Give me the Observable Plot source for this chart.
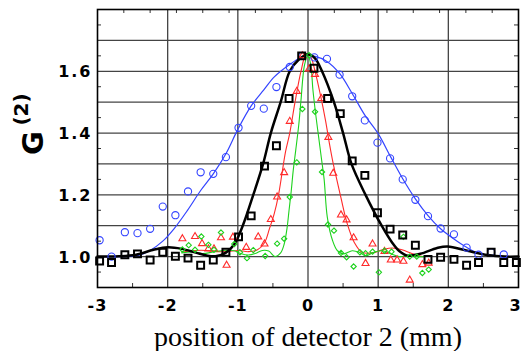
<!DOCTYPE html>
<html>
<head>
<meta charset="utf-8">
<script src="https://cdn.jsdelivr.net/npm/d3@7"></script>
<script src="https://cdn.jsdelivr.net/npm/@observablehq/plot@0.6"></script>
<style>
  html, body { margin: 0; padding: 0; background: #fff; }
  g[font-family^="DejaVu Sans, sans-serif"] { letter-spacing: 2px; }
  g[font-family^="DejaVu Sans, Verdana"] { letter-spacing: 1px; }
</style>
</head>
<body>
<div id="chart"></div>
<script>
// ---- data ----
const blueX = [-2.97,-2.80,-2.61,-2.43,-2.25,-2.07,-1.89,-1.71,-1.53,-1.35,-1.17,-0.99,-0.81,-0.63,-0.45,-0.26,-0.08,0.09,0.27,0.45,0.63,0.81,0.99,1.17,1.35,1.53,1.71,1.89,2.08,2.26,2.43,2.61,2.79];
const blueY = [1.053,1.000,1.079,1.076,1.090,1.162,1.134,1.211,1.273,1.268,1.322,1.417,1.488,1.479,1.549,1.614,1.650,1.645,1.640,1.589,1.519,1.441,1.369,1.318,1.250,1.184,1.131,1.091,1.072,1.029,1.006,1.014,1.007];

const blackX = [-2.97,-2.80,-2.61,-2.43,-2.25,-2.07,-1.89,-1.71,-1.53,-1.35,-1.17,-0.99,-0.81,-0.62,-0.45,-0.27,-0.09,0.085,0.28,0.46,0.63,0.81,0.99,1.17,1.35,1.53,1.71,1.89,2.08,2.26,2.43,2.61,2.79,2.97];
const blackY = [0.986,0.981,1.006,1.009,0.989,1.014,1.001,0.995,0.972,0.989,1.014,1.064,1.132,1.293,1.359,1.512,1.650,1.610,1.512,1.463,1.310,1.263,1.142,1.089,1.070,1.037,0.991,0.998,0.991,0.972,0.981,1.014,0.981,0.981];

const redX = [-1.79,-1.61,-1.51,-1.42,-1.34,-1.24,-1.16,-1.07,-0.88,-0.71,-0.62,-0.53,-0.44,-0.34,-0.26,-0.16,-0.08,0.015,0.10,0.19,0.29,0.36,0.47,0.55,0.65,0.82,0.92,1.09,1.18,1.27,1.36,1.45,1.63,1.72];
const redY = [1.058,1.065,1.042,1.025,1.025,1.061,0.972,1.063,1.030,1.064,1.041,1.120,1.193,1.272,1.438,1.535,1.650,1.608,1.590,1.512,1.386,1.270,1.135,1.119,1.061,0.978,1.041,1.017,0.989,0.989,0.985,0.924,0.974,0.979];

const greenX = [-1.79,-1.70,-1.61,-1.52,-1.42,-1.34,-1.24,-1.05,-0.97,-0.87,-0.78,-0.61,-0.44,-0.34,-0.26,-0.16,-0.08,0.015,0.10,0.20,0.285,0.37,0.47,0.55,0.65,0.74,0.82,0.92,1.01,1.09,1.19,1.36,1.45,1.55,1.63,1.72];
const greenY = [1.023,1.037,1.022,1.065,1.038,1.022,1.078,1.041,1.014,0.995,1.021,1.002,1.042,1.058,1.193,1.305,1.478,1.652,1.469,1.274,1.104,1.084,1.012,0.998,0.968,1.014,1.011,1.016,0.949,1.019,1.016,1.064,1.0,1.0,0.947,0.958];

// fitted curves
const blueLineX = [-3.0,-2.7,-2.43,-2.25,-2.07,-1.91,-1.72,-1.53,-1.35,-1.17,-1.0,-0.81,-0.63,-0.48,-0.26,-0.05,0.1,0.27,0.45,0.63,0.81,1.0,1.18,1.35,1.53,1.71,1.89,2.08,2.26,2.43,2.61,2.8,3.0];
const blueLineY = [1.0,1.0,1.003,1.02,1.05,1.09,1.149,1.214,1.268,1.333,1.412,1.488,1.54,1.582,1.622,1.65,1.648,1.632,1.593,1.528,1.458,1.398,1.322,1.252,1.187,1.133,1.090,1.057,1.030,1.011,1.004,1.0,1.0];

const blackLineX = [-3.0,-2.7,-2.45,-2.2,-2.0,-1.8,-1.6,-1.43,-1.3,-1.17,-1.05,-0.93,-0.78,-0.64,-0.53,-0.39,-0.26,-0.13,0.0,0.1,0.2,0.37,0.5,0.62,0.82,1.05,1.2,1.3,1.42,1.6,1.84,1.99,2.27,2.56,2.8,3.0];
const blackLineY = [1.0,1.001,1.006,1.022,1.03,1.025,1.013,1.003,1.002,1.013,1.04,1.10,1.20,1.30,1.40,1.50,1.60,1.638,1.655,1.642,1.60,1.50,1.40,1.30,1.20,1.10,1.045,1.018,1.003,1.009,1.028,1.033,1.019,1.005,1.0,1.0];

const redLineX = [-1.8,-1.6,-1.45,-1.3,-1.15,-1.0,-0.85,-0.72,-0.62,-0.55,-0.48,-0.42,-0.37,-0.32,-0.26,-0.185,-0.1,-0.03,0.03,0.1,0.18,0.25,0.31,0.36,0.4,0.47,0.56,0.66,0.77,0.92,1.06,1.2,1.34,1.49,1.63];
const redLineY = [1.015,1.02,1.02,1.016,1.016,1.02,1.016,1.022,1.045,1.09,1.14,1.20,1.27,1.34,1.40,1.50,1.60,1.652,1.65,1.60,1.52,1.44,1.36,1.30,1.26,1.19,1.106,1.046,1.014,1.012,1.022,1.028,1.022,1.009,1.0];

const greenLineX = [-1.8,-1.65,-1.5,-1.35,-1.2,-1.05,-0.96,-0.85,-0.75,-0.65,-0.56,-0.47,-0.39,-0.34,-0.3,-0.27,-0.24,-0.21,-0.175,-0.13,-0.1,-0.05,0.0,0.04,0.07,0.11,0.15,0.19,0.23,0.275,0.35,0.42,0.51,0.63,0.73,0.82,0.94,1.06,1.18,1.3,1.42,1.53,1.65];
const greenLineY = [1.012,1.015,1.01,1.015,1.02,1.019,1.01,1.005,1.01,1.02,1.018,1.0,1.012,1.04,1.09,1.15,1.21,1.28,1.344,1.43,1.506,1.62,1.652,1.62,1.54,1.46,1.39,1.32,1.25,1.128,1.052,1.019,1.009,1.019,1.014,1.003,1.014,1.019,1.009,1.0,1.003,1.0,1.0];

// ticks and labels
const xTicks = [-3,-2,-1,0,1,2];
const xTickLabels = ["-3","-2","-1","0","1","2"];
const xEdgeTick = [3];
const xEdgeTickLabel = ["3"];
const yTicks = [1.0,1.2,1.4,1.6];
const yTickLabels = ["1.0","1.2","1.4","1.6"];
const xGrid = [-2,-1,0,1,2];
const yGrid = [1.0,1.1,1.2,1.3,1.4,1.5,1.6,1.7];
const yMinor = [0.95,1.05,1.15,1.25,1.35,1.45,1.55,1.65,1.75];
const xMinorBottom = [-2.5,-1.5,-0.5,0.5,1.5,2.5];
const xMinorTop = [-2.625,-2.25,-1.875,-1.5,-1.125,-0.75,-0.375,0.375,0.75,1.125,1.5,1.875,2.25,2.625];
const xTitle = "position of detector 2 (mm)";
const yTitleMain = "G";
const yTitleSup = "(2)";

// ---- build ----
const zip = (xs, ys) => xs.map((x, i) => ({x, y: ys[i]}));
const W = 522, H = 351, ML = 97, MR = 4, MT = 9, MB = 64;
const PW = W - ML - MR, PH = H - MT - MB;
const yTickFont = "DejaVu Sans, sans-serif";
const xTickFont = "DejaVu Sans, Verdana, sans-serif";
const titleSans = "DejaVu Sans, Arial, sans-serif";

const blue = "#3344ff", red = "#ff2a2a", green = "#1ed21e";
const xLabelStyle = {frameAnchor: "bottom", lineAnchor: "bottom", dy: 23, fontFamily: xTickFont, fontWeight: "bold", fontSize: 16, fill: "#000"};

const chart = Plot.plot({
  width: W, height: H,
  marginLeft: ML, marginRight: MR, marginTop: MT, marginBottom: MB,
  x: {domain: [-3, 3], axis: null},
  y: {domain: [0.9, 1.8], axis: null},
  style: {background: "#fff"},
  marks: [
    Plot.gridY(yGrid, {stroke: "#444", strokeOpacity: 1, strokeWidth: 1.3}),
    Plot.gridX(xGrid, {stroke: "#444", strokeOpacity: 1, strokeWidth: 1.3}),
    Plot.tickY(yMinor, {y: d => d, insetRight: PW - 4, stroke: "#333"}),
    Plot.tickY(yMinor, {y: d => d, insetLeft: PW - 4, stroke: "#333"}),
    Plot.tickX(xMinorBottom, {x: d => d, insetTop: PH - 4, stroke: "#333"}),
    Plot.tickX(xMinorTop, {x: d => d, insetBottom: PH - 4, stroke: "#333"}),

    Plot.line(zip(blueLineX, blueLineY), {x: "x", y: "y", stroke: blue, strokeWidth: 1.2, curve: "catmull-rom"}),
    Plot.line(zip(redLineX, redLineY), {x: "x", y: "y", stroke: red, strokeWidth: 1.1, curve: "catmull-rom"}),
    Plot.line(zip(greenLineX, greenLineY), {x: "x", y: "y", stroke: green, strokeWidth: 1.1, curve: "catmull-rom"}),
    Plot.line(zip(blackLineX, blackLineY), {x: "x", y: "y", stroke: "#000", strokeWidth: 2.5, curve: "catmull-rom"}),

    Plot.dot(zip(blueX, blueY), {x: "x", y: "y", symbol: "circle", r: 3.6, stroke: blue, strokeWidth: 1.1, fill: "none"}),
    Plot.dot(zip(redX, redY), {x: "x", y: "y", symbol: "triangle", r: 2.6, stroke: red, strokeWidth: 1.1, fill: "none"}),
    Plot.dot(zip(greenX, greenY), {x: "x", y: "y", symbol: "diamond2", r: 2.4, stroke: green, strokeWidth: 1.1, fill: "none"}),
    Plot.dot(zip(blackX, blackY), {x: "x", y: "y", symbol: "square", r: 3.9, stroke: "#000", strokeWidth: 2, fill: "none"}),

    Plot.frame({stroke: "#000", strokeWidth: 1.6}),

    Plot.text(xTicks, {x: d => d, text: (d, i) => xTickLabels[i], ...xLabelStyle}),
    Plot.text(xEdgeTick, {x: d => d, text: (d, i) => xEdgeTickLabel[i], ...xLabelStyle, dx: -3}),
    Plot.text(yTicks, {y: d => d, text: (d, i) => yTickLabels[i], frameAnchor: "left", textAnchor: "end", lineAnchor: "bottom", dx: -5, dy: 6,
      fontFamily: yTickFont, fontWeight: "bold", fontSize: 16, fill: "#000"}),

    Plot.text([xTitle], {frameAnchor: "bottom", textAnchor: "middle", lineAnchor: "bottom", dy: 58, fontFamily: "Liberation Serif, Times New Roman, serif", fontSize: 28, fill: "#000"}),
    Plot.text([yTitleMain], {frameAnchor: "left", textAnchor: "middle", lineAnchor: "middle", rotate: -90, dx: -64, dy: -5.5, fontFamily: titleSans, fontWeight: "bold", fontSize: 29, fill: "#000"}),
    Plot.text([yTitleSup], {frameAnchor: "left", textAnchor: "middle", lineAnchor: "middle", rotate: -90, dx: -75.5, dy: -39, fontFamily: titleSans, fontWeight: "bold", fontSize: 20, fill: "#000"})
  ]
});
document.getElementById("chart").appendChild(chart);
</script>
</body>
</html>
